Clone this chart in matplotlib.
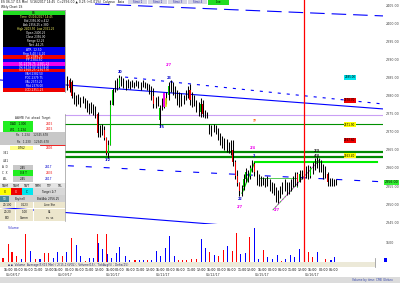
import numpy as np
import matplotlib
matplotlib.use("Agg")
import matplotlib.pyplot as plt
from matplotlib.patches import Rectangle
from matplotlib.transforms import blended_transform_factory

plt.rcParams["font.family"] = "DejaVu Sans"
plt.rcParams["lines.scale_dashes"] = False

# ---------------- data ----------------
# 15-min candles, positioned on the volume-bar grid (half steps)
bar_t = 15 + 0.5 * np.arange(126)
bar_high = [2385.4, 2384.9, 2384.3, 2381.0, 2380.2, 2380.4, 2379.6, 2379.9, 2379.3, 2378.8,
            2378.0, 2378.2, 2377.7, 2377.1, 2375.5, 2371.9, 2372.2, 2371.6, 2368.6, 2367.8,
            2378.8, 2382.1, 2384.3, 2384.9, 2385.7, 2385.4, 2384.9, 2384.3, 2384.6, 2384.0,
            2384.3, 2383.8, 2384.3, 2384.0, 2383.8, 2384.3, 2383.8, 2383.5, 2383.2, 2382.6,
            2382.1, 2379.6, 2379.9, 2377.4, 2379.3, 2379.9, 2381.0, 2383.8, 2384.3, 2383.8,
            2382.6, 2381.5, 2381.0, 2380.7, 2380.2, 2381.5, 2382.6, 2383.2, 2381.0, 2380.2,
            2378.8, 2378.2, 2379.3, 2378.8, 2376.0, 2375.5, 2372.2, 2371.9, 2372.2, 2371.9,
            2371.1, 2369.7, 2368.9, 2368.3, 2368.1, 2367.2, 2367.8, 2367.8, 2362.3, 2359.5,
            2356.2, 2355.4, 2358.2, 2360.1, 2359.5, 2360.9, 2362.3, 2361.7, 2359.5, 2358.4,
            2357.9, 2357.6, 2357.3, 2357.9, 2356.8, 2356.2, 2355.7, 2354.6, 2354.0, 2355.1,
            2356.2, 2356.8, 2356.2, 2356.0, 2356.8, 2357.9, 2359.0, 2359.0, 2359.5, 2359.5,
            2360.1, 2360.6, 2360.9, 2360.6, 2361.7, 2362.8, 2363.1, 2362.8, 2362.3, 2361.2,
            2360.6, 2359.0, 2357.3, 2357.1, 2356.8, 2356.8]
bar_low = [2381.5, 2381.0, 2379.3, 2377.7, 2377.1, 2377.7, 2376.9, 2378.0, 2376.6, 2375.5,
           2374.9, 2375.2, 2374.7, 2373.8, 2368.6, 2368.6, 2369.2, 2367.8, 2363.7, 2362.8,
           2366.4, 2377.4, 2381.0, 2381.5, 2382.1, 2382.6, 2382.1, 2381.5, 2382.1, 2381.8,
           2382.4, 2382.1, 2382.6, 2382.1, 2381.5, 2382.4, 2382.1, 2381.5, 2380.4, 2378.8,
           2376.6, 2376.6, 2377.1, 2371.4, 2376.0, 2376.6, 2377.7, 2378.8, 2381.0, 2380.2,
           2379.3, 2377.4, 2376.9, 2377.1, 2377.7, 2378.8, 2379.3, 2377.4, 2376.9, 2377.1,
           2375.5, 2374.4, 2374.1, 2374.1, 2373.8, 2373.8, 2369.4, 2368.9, 2370.0, 2369.4,
           2367.8, 2366.4, 2365.6, 2365.0, 2364.5, 2364.2, 2363.7, 2360.4, 2356.8, 2354.9,
           2352.1, 2352.1, 2354.0, 2356.0, 2356.2, 2356.8, 2359.0, 2357.9, 2355.4, 2354.9,
           2355.1, 2355.4, 2354.6, 2355.1, 2353.5, 2353.2, 2352.4, 2350.5, 2350.2, 2351.8,
           2352.9, 2353.5, 2352.4, 2352.7, 2353.5, 2354.6, 2355.1, 2354.9, 2356.2, 2356.8,
           2356.8, 2357.3, 2356.8, 2357.3, 2358.4, 2359.5, 2360.1, 2359.0, 2359.0, 2356.8,
           2357.3, 2355.1, 2354.9, 2355.1, 2355.1, 2355.4]
bar_open = [2382.9, 2384.3, 2383.8, 2379.9, 2378.8, 2379.3, 2378.2, 2378.8, 2379.1, 2377.4,
            2376.6, 2377.1, 2376.0, 2376.6, 2374.9, 2369.7, 2371.1, 2370.5, 2368.3, 2364.2,
            2366.4, 2377.4, 2381.5, 2383.2, 2382.4, 2384.9, 2383.8, 2382.9, 2383.5, 2382.6,
            2383.2, 2382.9, 2383.5, 2383.2, 2382.6, 2383.2, 2382.9, 2382.6, 2382.1, 2381.5,
            2379.9, 2377.7, 2378.8, 2373.3, 2376.6, 2378.2, 2378.8, 2380.2, 2382.6, 2382.1,
            2381.0, 2380.2, 2378.8, 2379.3, 2378.2, 2379.6, 2380.4, 2381.5, 2378.8, 2379.9,
            2378.0, 2376.3, 2375.5, 2377.7, 2374.9, 2374.4, 2371.6, 2370.5, 2371.1, 2371.6,
            2370.5, 2368.9, 2367.8, 2366.4, 2367.2, 2365.3, 2366.1, 2365.0, 2361.5, 2357.9,
            2355.7, 2353.5, 2354.6, 2356.8, 2359.0, 2357.9, 2360.1, 2361.2, 2359.0, 2357.3,
            2356.2, 2356.8, 2356.0, 2356.5, 2355.7, 2354.6, 2355.1, 2353.5, 2351.8, 2352.7,
            2354.0, 2355.1, 2354.6, 2354.0, 2355.1, 2355.7, 2356.8, 2358.2, 2356.2, 2358.4,
            2357.9, 2359.0, 2359.5, 2357.9, 2360.1, 2360.9, 2362.3, 2361.7, 2360.1, 2361.2,
            2359.5, 2358.2, 2356.2, 2355.7, 2356.5, 2356.0]
bar_close = [2384.3, 2382.1, 2379.9, 2378.8, 2379.3, 2378.2, 2378.8, 2379.1, 2377.4, 2376.6,
             2377.1, 2376.0, 2376.6, 2374.9, 2369.7, 2371.1, 2370.5, 2368.3, 2364.2, 2366.4,
             2377.4, 2381.5, 2383.2, 2382.4, 2384.9, 2383.8, 2382.9, 2383.5, 2382.6, 2383.2,
             2382.9, 2383.5, 2383.2, 2382.6, 2383.2, 2382.9, 2382.6, 2382.1, 2381.5, 2379.9,
             2377.7, 2378.8, 2378.2, 2376.6, 2378.2, 2378.8, 2380.2, 2382.6, 2382.1, 2381.0,
             2380.2, 2378.8, 2379.3, 2378.2, 2379.6, 2380.4, 2381.5, 2378.8, 2379.9, 2378.0,
             2376.3, 2375.5, 2377.7, 2374.9, 2374.4, 2374.7, 2370.5, 2371.1, 2371.6, 2370.5,
             2368.9, 2367.8, 2366.4, 2367.2, 2365.3, 2366.1, 2365.0, 2361.5, 2357.9, 2355.7,
             2353.5, 2354.6, 2356.8, 2359.0, 2357.9, 2360.1, 2361.2, 2359.0, 2357.3, 2356.2,
             2356.8, 2356.0, 2356.5, 2355.7, 2354.6, 2355.1, 2353.5, 2351.8, 2352.7, 2354.0,
             2355.1, 2354.6, 2354.0, 2355.1, 2355.7, 2356.8, 2358.2, 2356.2, 2358.4, 2357.9,
             2359.0, 2359.5, 2357.9, 2360.1, 2360.9, 2362.3, 2361.7, 2360.1, 2361.2, 2359.5,
             2358.2, 2356.2, 2355.7, 2356.5, 2356.0, 2356.0]

vol_t = [0.0, 1.2, 2.1, 3.2, 4.3, 5.3, 6.4, 7.6, 8.6, 9.6, 10.6, 11.7, 12.7, 13.8, 14.8, 16.0,
         17.0, 18.1, 19.2, 20.1, 21.0, 21.9, 22.2, 23.1, 24.0, 24.3, 25.3, 26.3, 27.2, 28.4,
         29.5, 30.7, 31.7, 32.6, 33.6, 34.6, 35.7, 36.7, 37.8, 38.8, 39.8, 40.8, 41.8, 42.7,
         43.9, 45.0, 46.2, 47.1, 48.1, 49.1, 50.2, 51.2, 52.2, 53.3, 54.3, 55.3, 56.4, 57.4,
         58.4, 59.5, 60.5, 61.5, 62.6, 63.8, 64.8, 65.8, 66.9, 67.9, 68.9, 70.1, 71.0, 72.0,
         73.1, 75.1, 76.3, 77.2]
vol = [320, 1440, 780, 460, 260, 2180, 860, 240, 240, 720, 720, 320, 800, 460, 780, 1860,
       1340, 460, 100, 340, 340, 2180, 1520, 1040, 2180, 640, 320, 720, 1200, 460,
       180, 180, 180, 180, 140, 180, 880, 500, 1120, 2060, 460, 180, 180, 180,
       240, 240, 1840, 1120, 780, 540, 460, 980, 1260, 860, 2260, 660, 720, 2000,
       2660, 240, 980, 380, 240, 580, 100, 240, 540, 380, 1060, 2940, 780, 380,
       780, 260, 180, 380]
vol_side = list("rrrrbrbrbrrbbrbrbbrbbrbbrbbbbbbrbbrbbbbbbrrrrr"
                "bbrbrrbrrbbrbbrbbbrbbbbrrrbrbb")

price_ticks = [2345, 2350, 2355, 2360, 2365, 2370, 2375, 2380, 2385, 2390, 2395, 2400, 2405]
last_price = 2356.00

# horizontal levels
lvl_lavender = 2374.5
lvl_green = 2372.2
lvl_dkgreen = [2364.5, 2363.1]
lvl_lime = 2361.7
lvl_lightgreen = 2357.1

# channel / trend lines (time, price)
upper_chan_t, upper_chan_p = [-0.7, 88.4], [2384.3, 2376.3]
lower_chan_t, lower_chan_p = [-0.7, 60.0], [2349.1, 2343.4]
top_dash_t, top_dash_p = [21.4, 88.4], [2405.3, 2402.0]
mid_dash_t, mid_dash_p = [28.4, 88.1], [2385.1, 2377.7]
low_dash_t, low_dash_p = [15.1, 87.7], [2360.6, 2356.2]
zig_t, zig_p = [55.6, 58.6], [2353.0, 2361.7]
trend_t, trend_p = [62.8, 73.7], [2348.4, 2362.3]
event_t = 70.0

tag_prices = [2385.0, 2378.7, 2371.9, 2367.6, 2363.4]
tag_colors = ["#00e5ee", "#ee0000", "#ffff00", "#ee0000", "#ffff00"]

swing_t = [24.4, 27.2, 38.6, 38.6, 37.0, 58.1, 58.4, 55.1, 55.1, 63.7, 73.0, 73.0, 58.6]
swing_p = [2362.3, 2386.6, 2388.4, 2384.9, 2371.4, 2365.6, 2363.4, 2351.3, 2349.2, 2348.4,
           2364.8, 2363.4, 2373.0]
swing_txt = ["1/2", "20", "2/7", "23", "1/5", "2/4", "2", "22", "2/7", "2/7", "2/3", "4/4", "??"]
swing_col = ["#0000cc", "#0000cc", "#ee00ee", "#0000cc", "#0000cc", "#ee00ee", "#0000cc",
             "#0000cc", "#ee00ee", "#ee00ee", "#111111", "#111111", "#ff5500"]

time_t = [1.2, 3.6, 6.0, 8.3, 10.7, 13.0, 15.4, 17.8, 20.1, 22.5, 24.9, 27.2, 29.6, 31.9, 34.3,
          36.7, 39.0, 41.4, 43.8, 46.1, 48.5, 50.8, 53.2, 55.6, 57.9, 60.3, 62.7, 65.0, 67.4,
          69.7, 72.1, 74.5, 76.8]
time_lbl = ["15:00", "00:00", "06:00", "11:00", "12:00"] * 6 + ["15:00", "00:00", "06:00"]
date_t = [2.3, 14.4, 25.6, 37.2, 48.8, 60.2, 71.9]
date_lbl = ["05/08/17", "05/09/17", "05/10/17", "05/11/17", "05/12/17", "05/15/17", "05/16/17"]

# ---------------- layout ----------------
W, H = 400, 283
def box(x0, y0, x1, y1):
    return [x0 / W, 1 - y1 / H, (x1 - x0) / W, (y1 - y0) / H]

fig = plt.figure(figsize=(4, 2.83), dpi=100)
fig.patch.set_facecolor("white")
ax = fig.add_axes(box(0, 0, 383, 224))
axv = fig.add_axes(box(0, 224, 383, 262), sharex=ax)
ax.set_xlim(-0.7, 88.4)
ax.set_ylim(2344.5, 2406.4)
axv.set_ylim(0, 3000)

# ---------------- price pane ----------------
ax.axhline(lvl_lavender, color="#c9a0f5", lw=0.8, zorder=1)
ax.axhline(lvl_green, color="#009000", lw=0.8, zorder=1)
for p in lvl_dkgreen:
    ax.axhline(p, color="#008a00", lw=1.6, zorder=1)
ax.plot([58.6, 87.0], [lvl_lime, lvl_lime], color="#00ee00", lw=1.5, zorder=1)
ax.plot([59.8, 68.4, 68.4], [lvl_lightgreen, lvl_lightgreen, 2354.6], color="#55cc55", lw=0.7, zorder=2)

ax.plot(upper_chan_t, upper_chan_p, color="#0000ff", lw=0.8, zorder=2)
ax.plot(lower_chan_t, lower_chan_p, color="#0000ff", lw=0.8, zorder=2)
ax.plot(top_dash_t, top_dash_p, color="#0000ff", lw=0.8, ls=(0, (10.5, 5)), zorder=2)
ax.plot(mid_dash_t, mid_dash_p, color="#0000ff", lw=0.8, ls=(0, (2.2, 4.3)), zorder=2)
ax.plot(low_dash_t, low_dash_p, color="#0000ff", lw=0.8, ls=(0, (4.3, 8.6)), zorder=2)
ax.plot(zig_t, zig_p, color="#00ee00", lw=0.9, zorder=3)
ax.plot(trend_t, trend_p, color="#cc44cc", lw=0.6, zorder=3)
ax.plot(trend_t, trend_p, color="#22dd22", lw=0.6, ls=(0, (1, 1.5)), zorder=3)

for t, o, h, l, c in zip(bar_t, bar_open, bar_high, bar_low, bar_close):
    ax.plot([t, t], [l, h], color="black", lw=0.75, zorder=4, solid_capstyle="butt")
    if abs(c - o) >= 2.0:
        col = "#00cc00" if c > o else "#ee0000"
        ax.add_patch(Rectangle((t - 0.12, min(o, c)), 0.24, abs(c - o), color=col, lw=0, zorder=5))

# swing markers (magenta/yellow blocks)
ax.plot([37.4, 37.4], [2377.2, 2380.4], color="#ee00ee", lw=1.4, zorder=5)
ax.plot([37.9, 37.9], [2377.2, 2379.0], color="#dddd00", lw=1.2, zorder=5)
for t, p, s, c in zip(swing_t, swing_p, swing_txt, swing_col):
    ax.text(t, p, s, color=c, fontsize=2.4, ha="center", va="center", zorder=6, fontweight="bold")

tr = blended_transform_factory(ax.transAxes, ax.transData)
for p, c in zip(tag_prices, tag_colors):
    ax.text(80.7, p, f"{p:.2f}", fontsize=2.0, color="black", ha="center", va="center",
            bbox=dict(boxstyle="square,pad=0.15", fc=c, ec="none"), zorder=6)
ax.text(1.004, last_price, f"{last_price:.2f}", transform=tr, fontsize=2.3, color="black",
        ha="left", va="center", bbox=dict(boxstyle="square,pad=0.2", fc="#33ee33", ec="none"), zorder=7)

ax.axvline(event_t, color="#ff0000", lw=0.9, zorder=6)

ax.yaxis.tick_right()
ax.set_yticks(price_ticks)
ax.set_yticklabels([f"{p:.2f}" for p in price_ticks], fontsize=2.3, color="#444444")
ax.tick_params(axis="y", length=0, pad=2)
ax.tick_params(axis="x", which="both", length=0, labelbottom=False)
for s in ax.spines.values():
    s.set_visible(False)
ax.set_facecolor("none")

# ---------------- volume pane ----------------
vcols = ["#ff0000" if s == "r" else "#0000ff" for s in vol_side]
axv.bar(vol_t, vol, width=0.25, color=vcols, linewidth=0)
axv.axvline(event_t, color="#ff0000", lw=0.9)
axv.yaxis.tick_right()
axv.set_yticks([1500])
axv.set_yticklabels(["1500"], fontsize=2.3, color="#444444")
axv.tick_params(axis="y", length=0, pad=2)
axv.set_xticks(time_t)
axv.set_xticklabels(time_lbl, fontsize=2.3, color="black")
axv.set_xticks(date_t, minor=True)
axv.set_xticklabels(date_lbl, minor=True, fontsize=2.3, color="#333333")
axv.tick_params(axis="x", which="major", length=0, pad=4.6, labelsize=2.3)
axv.tick_params(axis="x", which="minor", length=0, pad=8.2, labelsize=2.3)
for s in axv.spines.values():
    s.set_visible(False)
axv.set_facecolor("none")
axv.text(0.02, 0.95, "Volume", transform=axv.transAxes, fontsize=2.3, color="#3333cc", va="top")

# ---------------- overlay: tables, toolbar, strips ----------------
ov = fig.add_axes([0, 0, 1, 1], zorder=10)
ov.set_xlim(0, W)
ov.set_ylim(H, 0)
ov.axis("off")

def cell(x0, y0, x1, y1, fc, txt="", tc="white", fs=2.1, ha="center", tx=None):
    ov.add_patch(Rectangle((x0, y0), x1 - x0, y1 - y0, fc=fc, ec="none"))
    if txt:
        xx = (x0 + x1) / 2 if tx is None else tx
        ov.text(xx, (y0 + y1) / 2 + 0.2, txt, color=tc, fontsize=fs, ha=ha, va="center")

# toolbar
ov.text(1, 2.5, "ES 06-17 (15 Min)  5/16/2017 14:45  C=2356.00 \u25b2 0.25 (+0.01%)  Calypso   Asia", fontsize=2.2,
        color="#111111", va="center")
for i, s in enumerate(["Strat 1", "Strat 2", "Strat 3", "Strat 4"]):
    cell(128 + 20 * i, 0, 147 + 20 * i, 4, "#d6d6e4", s, "#2222aa", 2.0)
cell(208, 0, 229, 4.5, "#22dd22", "Live", "black", 2.0)
ov.text(1, 6.6, "Wkly Chart 1S", fontsize=2.2, color="#111111", va="center")
ov.plot([3, 65], [10, 10], color="#999999", lw=0.6)

# table 1
cell(3, 11, 65, 15, "#22dd22", "ES", "black")
cell(3, 15, 65, 47, "black")
for i, s in enumerate(["Time  05/16/2017 14:45", "Bid 2356.00 x 412", "Ask 2356.25 x 380",
                       "High 2403.50  Low 2351.25", "Open 2400.25", "Close 2356.00",
                       "Range 52.25", "Net -44.25"]):
    ov.text(36, 17.5 + 3.9 * i, s, color="#ffff66" if i in (0, 3) else "white", fontsize=2.0,
            ha="center", va="center")
cell(3, 47, 65, 52, "#0000ee", "ATR  12.50", "white")
cell(3, 52, 65, 55, "#0000ee", "Rng 3.40 / 4.10", "white")
cell(3, 55, 65, 58.5, "#ee0000", "R1 2389.25", "white")
cell(3, 58.5, 65, 62, "#0000ee", "PP 2384.50", "white")
cell(3, 62, 65, 65.5, "#ee00ee", "S1 2378.75  2381.25", "white")
cell(3, 65.5, 65, 68.5, "#0000ee", "S2 2374.00 (2374.4)", "white")
cell(3, 68.5, 65, 72, "#ee0000", "S3 2368.25 (2367.9)", "white")
cell(3, 72, 65, 88, "#0000ee")
for i, s in enumerate(["VAH 2382.50", "POC 2379.75", "VAL 2373.25", "Mid 2376.00"]):
    ov.text(34, 74 + 3.9 * i, s, color="white", fontsize=2.0, ha="center", va="center")
cell(3, 88, 65, 92, "#ee0000", "LOD 2351.25", "white")
ov.plot([65, 65], [11, 92], color="#888888", lw=0.5)

# table 2
cell(0, 114, 65, 121, "white", "AWMB  Fut  ahead  Target", "#222222", 2.0)
cell(0, 121, 65, 138, "white")
cell(3, 121, 33, 127, "#22ee22", "DAD   1.000", "black", 2.0)
cell(3, 127, 33, 132, "#22ee22", "W1    1.234", "black", 2.0)
ov.text(49, 124, "2415", color="#ee0000", fontsize=2.1, ha="center", va="center")
ov.text(49, 129.5, "2415", color="#ee0000", fontsize=2.1, ha="center", va="center")
cell(0, 132, 65, 138, "#c8c8c8", "Rs   1.234    12345.678", "#222222", 2.0)
cell(0, 138, 65, 145, "#c8c8c8", "Rs   1.230    12345.678", "#222222", 2.0)
ov.plot([40, 65], [145, 145], color="#ee0000", lw=0.6)
cell(0, 145, 65, 182, "white")
cell(10, 145.5, 33, 150, "#ffff88", "0.762", "black", 2.0)
ov.text(49, 148, "2405", color="#ee0000", fontsize=2.1, ha="center", va="center")
ov.text(6, 153, "3.41", color="#222222", fontsize=2.0, ha="center", va="center")
ov.text(6, 160.5, "4.41", color="#222222", fontsize=2.0, ha="center", va="center")
ov.text(5, 167.5, "A  D", color="#222222", fontsize=2.0, ha="center", va="center")
cell(13, 165, 33, 170, "#c8c8c8", "2.45", "black", 2.0)
ov.text(49, 167.5, "2417", color="#0000cc", fontsize=2.1, ha="center", va="center")
ov.text(5, 173, "C  X", color="#222222", fontsize=2.0, ha="center", va="center")
cell(13, 170, 33, 176, "#22ee22", "0.8 T", "black", 2.0)
ov.text(49, 173, "2435", color="#ee0000", fontsize=2.1, ha="center", va="center")
ov.text(5, 179, "ALL", color="#222222", fontsize=2.0, ha="center", va="center")
cell(13, 176, 33, 182, "#c8c8c8", "2.45", "black", 2.0)
ov.text(49, 179, "2417", color="#0000cc", fontsize=2.1, ha="center", va="center")
for i, s in enumerate(["TWM", "TWM", "TWT", "TMM", "TTF", "TFL"]):
    cell(11 * i, 183, 11 * i + 10.5, 188, "#e4e4e4", s, "#111111", 2.0)
cell(0, 188, 10.5, 195, "#ffff00", "X", "black", 2.0)
cell(11, 188, 21.5, 195, "#ee0000", "X", "white", 2.0)
cell(22, 188, 32.5, 195, "#00e5ee", "C", "black", 2.0)
cell(33, 188, 65, 195, "#d8d8d8", "Target 2/7", "#111111", 2.0)
cell(0, 195, 65, 202, "#d0d0d0")
cell(0, 196, 9, 202, "#4a8a9a", "TU", "white", 2.0)
ov.text(20, 199, "Buy/sell", color="#111111", fontsize=2.0, ha="center", va="center")
ov.text(48, 199, "Bid/Ask 2356.25", color="#111111", fontsize=2.0, ha="center", va="center")
for j, row in enumerate([["20/100", "0.123", "Line Stn"], ["20/20", "1:00", "84"], ["BID", "Comm", "ss  ss"]]):
    y0 = 202 + 6.5 * j
    cell(0, y0, 15, y0 + 6, "#ece6cc", row[0], "#111111", 2.0)
    cell(16, y0, 33, y0 + 6, "#ece6cc", row[1], "#111111", 2.0)
    cell(34, y0, 65, y0 + 6, "#ece6cc", row[2], "#111111", 2.0)
ov.plot([65, 65], [114, 221], color="#999999", lw=0.5)

# strips at the bottom
cell(0, 262, 375, 267, "#ece9d8")
ov.text(8, 264.6, "\u25aa \u25aa  Volume  Average(5)(15 Min) / 2(15,1)(VOL) ; Volume(15) ; TickAvg(5) ; Delta(15)",
        fontsize=2.1, color="#222266", va="center")
ov.plot([375, 375], [258, 267], color="#888888", lw=0.5)
cell(384, 257.5, 386.5, 262, "#0000ff")
cell(0, 277, 400, 283, "#dcdcdc")
ov.text(393, 280, "Volume by time: CME Globex", fontsize=2.1, color="#3344aa", ha="right", va="center")

fig.savefig("out.png", dpi=100)
